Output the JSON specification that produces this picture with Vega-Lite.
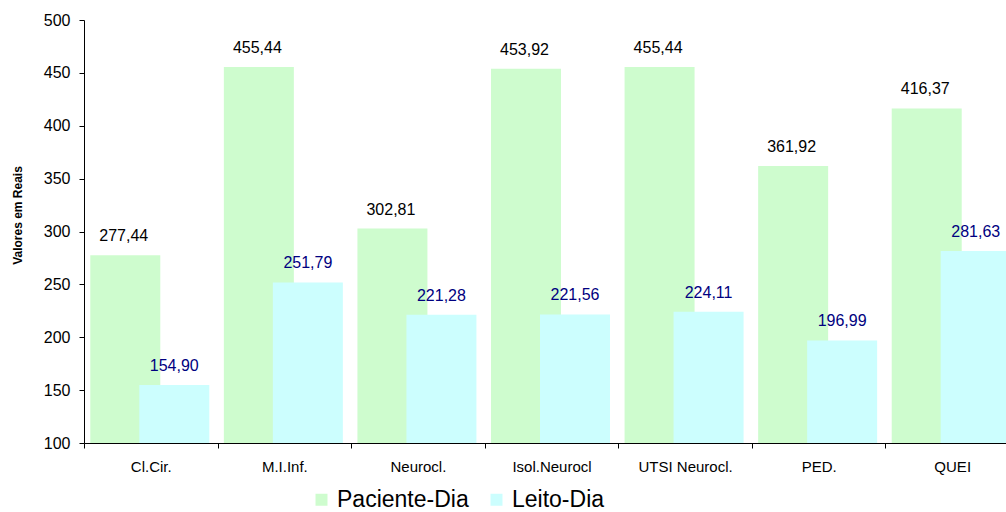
{
  "$schema": "https://vega.github.io/schema/vega-lite/v6.json",
  "autosize": {"type": "none"},
  "width": 922,
  "height": 423,
  "padding": {"left": 84, "top": 20, "right": 0, "bottom": 69},
  "background": "white",
  "config": {
    "locale": {"number": {"decimal": ",", "thousands": ".", "grouping": [3], "currency": ["R$", ""]}},
    "font": "Liberation Sans",
    "view": {"stroke": null},
    "axis": {"grid": false, "domainColor": "#000000", "tickColor": "#000000", "labelColor": "#000000", "labelFont": "Liberation Sans", "labelFontSize": 15}
  },
  "data": {
    "values": [
      {"cat": "Cl.Cir.", "paciente": 277.44, "leito": 154.90},
      {"cat": "M.I.Inf.", "paciente": 455.44, "leito": 251.79},
      {"cat": "Neurocl.", "paciente": 302.81, "leito": 221.28},
      {"cat": "Isol.Neurocl", "paciente": 453.92, "leito": 221.56},
      {"cat": "UTSI Neurocl.", "paciente": 455.44, "leito": 224.11},
      {"cat": "PED.", "paciente": 361.92, "leito": 196.99},
      {"cat": "QUEI", "paciente": 416.37, "leito": 281.63}
    ]
  },
  "encoding": {
    "x": {
      "field": "cat", "type": "nominal", "sort": null,
      "scale": {"range": [0, 935], "paddingInner": 0, "paddingOuter": 0},
      "axis": {"title": null, "labelAngle": 0, "tickBand": "extent", "tickSize": 5, "labelPadding": 11, "domainWidth": 1, "labelFontSize": 15}
    }
  },
  "layer": [
    {
      "mark": {"type": "bar", "width": 70, "xOffset": -25.5},
      "encoding": {
        "y": {
          "field": "paciente", "type": "quantitative",
          "scale": {"domain": [100, 500], "zero": false, "nice": false},
          "axis": {"values": [100, 150, 200, 250, 300, 350, 400, 450, 500], "tickSize": 5, "labelPadding": 9, "labelFontSize": 16, "title": "Valores em Reais", "titleFont": "Liberation Sans", "titleFontSize": 12, "titleFontWeight": "bold", "titleColor": "#000000", "titleAngle": -90, "titleX": -67, "titleY": 195, "titleAlign": "center", "titleBaseline": "middle"}
        },
        "y2": {"datum": 100},
        "color": {
          "datum": "Paciente-Dia", "type": "nominal",
          "scale": {"domain": ["Paciente-Dia", "Leito-Dia"], "range": ["#CEFCCE", "#CCFEFE"]},
          "legend": {"title": null, "orient": "none", "direction": "horizontal", "legendX": 226, "legendY": 468, "symbolType": "square", "symbolSize": 144, "symbolStrokeWidth": 0, "labelFontSize": 23, "labelFont": "Liberation Sans", "labelColor": "#000000", "labelOffset": 4, "columnPadding": 16}
        }
      }
    },
    {
      "mark": {"type": "bar", "width": 70, "xOffset": 23.5},
      "encoding": {
        "y": {"field": "leito", "type": "quantitative"},
        "y2": {"datum": 100},
        "color": {"datum": "Leito-Dia", "type": "nominal"}
      }
    },
    {
      "mark": {"type": "text", "xOffset": -27, "dy": -14, "baseline": "alphabetic", "fontSize": 16, "font": "Liberation Sans", "color": "#000000"},
      "encoding": {
        "y": {"field": "paciente", "type": "quantitative"},
        "text": {"field": "paciente", "type": "quantitative", "format": ".2f"}
      }
    },
    {
      "mark": {"type": "text", "xOffset": 23.5, "dy": -14, "baseline": "alphabetic", "fontSize": 16, "font": "Liberation Sans", "color": "#000080"},
      "encoding": {
        "y": {"field": "leito", "type": "quantitative"},
        "text": {"field": "leito", "type": "quantitative", "format": ".2f"}
      }
    }
  ]
}
